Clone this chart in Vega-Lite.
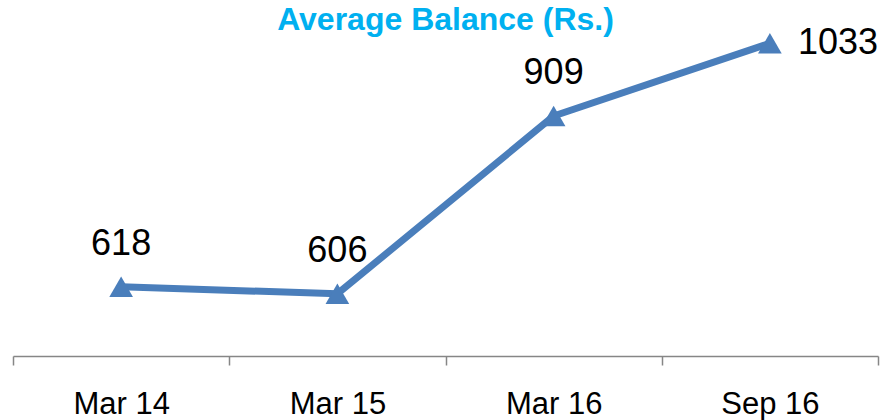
{
  "$schema": "https://vega.github.io/schema/vega-lite/v6.json",
  "autosize": "none",
  "width": 865,
  "height": 352,
  "padding": {"left": 13, "top": 4, "right": 6, "bottom": 64},
  "background": "white",
  "title": {
    "text": "Average Balance (Rs.)",
    "color": "#00B0F0",
    "font": "Liberation Sans",
    "fontSize": 32,
    "fontWeight": "bold",
    "anchor": "middle",
    "baseline": "alphabetic",
    "offset": 0,
    "dy": 58
  },
  "config": {"view": {"stroke": null}},
  "data": {
    "values": [
      {"period": "Mar 14", "balance": 618},
      {"period": "Mar 15", "balance": 606},
      {"period": "Mar 16", "balance": 909},
      {"period": "Sep 16", "balance": 1033}
    ]
  },
  "encoding": {
    "x": {
      "field": "period",
      "type": "ordinal",
      "sort": null,
      "scale": {"type": "band", "paddingInner": 0, "paddingOuter": 0},
      "axis": {
        "title": null,
        "labelAngle": 0,
        "labelFont": "Liberation Sans",
        "labelFontSize": 31,
        "labelColor": "#000000",
        "labelBaseline": "alphabetic",
        "labelPadding": 48,
        "tickBand": "extent",
        "tickSize": 9,
        "tickColor": "#868686",
        "tickWidth": 1.5,
        "domainColor": "#868686",
        "domainWidth": 1.5,
        "grid": false
      }
    },
    "y": {
      "field": "balance",
      "type": "quantitative",
      "scale": {"domain": [500, 1100], "nice": false, "zero": false},
      "axis": null
    }
  },
  "layer": [
    {
      "mark": {"type": "line", "color": "#4A7EBB", "strokeWidth": 7, "strokeJoin": "round"}
    },
    {
      "mark": {"type": "point", "shape": "triangle-up", "size": 560, "filled": true, "opacity": 1, "color": "#4A7EBB"}
    },
    {
      "transform": [{"filter": "datum.period !== 'Sep 16'"}],
      "mark": {"type": "text", "font": "Liberation Sans", "fontSize": 36, "color": "#000000", "baseline": "alphabetic", "align": "center", "dy": -32},
      "encoding": {"text": {"field": "balance", "type": "quantitative"}}
    },
    {
      "transform": [{"filter": "datum.period === 'Sep 16'"}],
      "mark": {"type": "text", "font": "Liberation Sans", "fontSize": 36, "color": "#000000", "baseline": "middle", "align": "left", "dx": 28},
      "encoding": {"text": {"field": "balance", "type": "quantitative"}}
    }
  ]
}
